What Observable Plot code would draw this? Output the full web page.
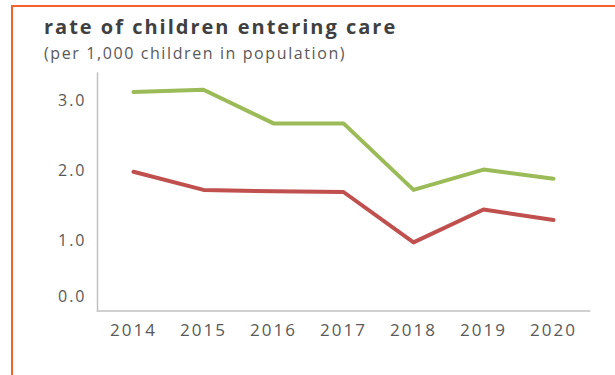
<!DOCTYPE html>
<html><head><meta charset="utf-8">
<script src="https://cdn.jsdelivr.net/npm/d3@7"></script>
<script src="https://cdn.jsdelivr.net/npm/@observablehq/plot@0.6"></script>
<style>
body{margin:0;background:#fff;width:615px;height:375px;overflow:hidden;position:relative;font-family:"Open Sans",sans-serif;}
#border{position:absolute;left:11px;top:5px;width:700px;height:500px;border-top:2px solid #F4622A;border-left:2px solid #F4622A;}
#title{position:absolute;left:44px;top:17px;font-size:20px;line-height:20px;font-weight:700;color:#404040;letter-spacing:2px;white-space:nowrap;}
#subtitle{position:absolute;left:44px;top:45px;font-size:16px;line-height:16px;color:#595959;letter-spacing:1.6px;white-space:nowrap;}
#chart{position:absolute;left:0;top:60px;}
#chart svg text{letter-spacing:2px;}
</style>
</head><body>
<div id="border"></div>
<div id="title">rate of children entering care</div>
<div id="subtitle">(per 1,000 children in population)</div>
<div id="chart"></div>
<script>
const years = ["2014","2015","2016","2017","2018","2019","2020"];
const greenSeries = [3.13, 3.16, 2.68, 2.68, 1.73, 2.02, 1.89];
const redSeries = [1.99, 1.73, 1.71, 1.70, 0.98, 1.45, 1.30];
const yTicks = [1, 2, 3];
const yZeroTick = [0];

const greenData = years.map((y, i) => ({year: y, value: greenSeries[i]}));
const redData = years.map((y, i) => ({year: y, value: redSeries[i]}));

const chart = Plot.plot({
  width: 615,
  height: 315,
  marginLeft: 97,
  marginRight: 26,
  marginTop: 12.5,
  marginBottom: 64.5,
  style: {fontFamily: "'Open Sans', sans-serif", color: "#595959", background: "transparent"},
  x: {type: "point", domain: years, padding: 0.5},
  y: {domain: [0, 3.4]},
  marks: [
    Plot.frame({anchor: "left", stroke: "#c0c0c0", strokeWidth: 1.5}),
    Plot.frame({anchor: "bottom", stroke: "#c0c0c0", strokeWidth: 1.5}),
    Plot.axisY(yTicks, {tickSize: 0, tickPadding: 11, tickFormat: d3.format(".1f"), fontSize: 16, label: null}),
    Plot.axisY(yZeroTick, {tickSize: 0, tickPadding: 11, tickFormat: d3.format(".1f"), fontSize: 16, dy: -14, label: null}),
    Plot.axisX({tickSize: 0, tickPadding: 12.5, fontSize: 17, label: null}),
    Plot.line(greenData, {x: "year", y: "value", stroke: "#9BBB59", strokeWidth: 4, strokeLinejoin: "round", strokeLinecap: "round"}),
    Plot.line(redData, {x: "year", y: "value", stroke: "#C0504D", strokeWidth: 4, strokeLinejoin: "round", strokeLinecap: "round"})
  ]
});
document.getElementById("chart").appendChild(chart);
</script>
</body></html>
